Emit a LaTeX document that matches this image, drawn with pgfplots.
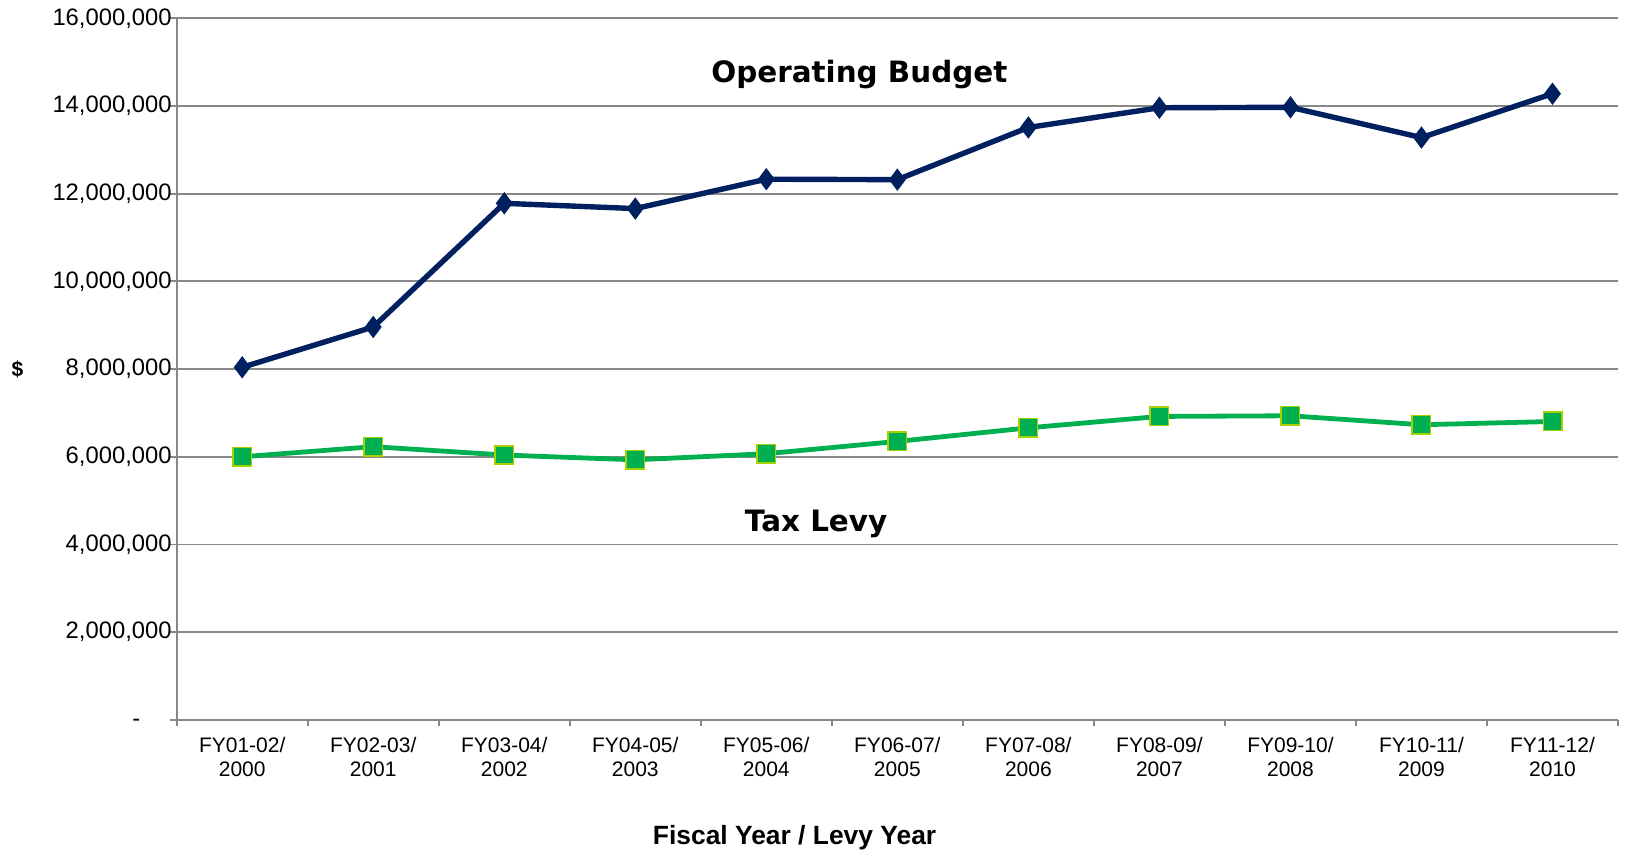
\documentclass[border=0pt]{standalone}
\usepackage{fontspec}
\setmainfont{Liberation Sans}
\newfontfamily\verdana{DejaVu Sans}
\usepackage{pgfplots}
\pgfplotsset{compat=1.18}

\definecolor{budgetblue}{RGB}{0,32,96}
\definecolor{levygreen}{RGB}{0,176,80}
\definecolor{levyedge}{RGB}{166,208,0}
\definecolor{gridgray}{RGB}{136,136,136}

\begin{document}
\begin{tikzpicture}
\begin{axis}[
  scale only axis, width=720.7pt, height=350.8pt,
  xmin=-0.5, xmax=10.5, ymin=0, ymax=16000000,
  axis x line*=bottom, axis y line*=left,
  axis line style={gridgray, line width=0.9pt, -},
  tick align=outside,
  major tick length=3.5pt, minor tick length=3pt,
  every tick/.style={gridgray, line width=0.9pt},
  xtick={0,...,10},
  xticklabels={{FY01-02/\\2000},{FY02-03/\\2001},{FY03-04/\\2002},{FY04-05/\\2003},{FY05-06/\\2004},{FY06-07/\\2005},{FY07-08/\\2006},{FY08-09/\\2007},{FY09-10/\\2008},{FY10-11/\\2009},{FY11-12/\\2010}},
  major x tick style={draw=none},
  minor xtick={-0.5,0.5,...,10.5},
  xticklabel style={align=center, yshift=-1.5pt, font=\fontsize{10.5}{12}\selectfont},
  ytick={0,2000000,...,16000000},
  scaled y ticks=false,
  yticklabels={{},{2,000,000},{4,000,000},{6,000,000},{8,000,000},{10,000,000},{12,000,000},{14,000,000},{16,000,000}},
  yticklabel style={anchor=east, xshift=4.5pt, font=\fontsize{11.9}{14}\selectfont},
  ymajorgrids, major grid style={gridgray, line width=0.9pt},
  xlabel={Fiscal Year / Levy Year},
  every axis x label/.style={at={(axis description cs:0.4287,0)}, anchor=center, yshift=-59pt, font=\bfseries\fontsize{13.2}{15}\selectfont},
  ylabel={\$},
  every axis y label/.style={at={(axis description cs:-0.1104,0.5)}, anchor=center, font=\bfseries\fontsize{10.5}{12}\selectfont},
  clip=false,
]
% Operating Budget
\addplot[budgetblue, line width=2.7pt, mark=diamond*, mark size=5.2pt,
  mark options={solid, fill=budgetblue, line width=0.5pt}]
  coordinates {(0,8040000) (1,8960000) (2,11780000) (3,11660000) (4,12330000)
  (5,12320000) (6,13510000) (7,13960000) (8,13970000) (9,13280000) (10,14280000)};

% Tax Levy
\addplot[levygreen, line width=2.4pt, mark=square*, mark size=4.6pt,
  mark options={solid, fill=levygreen, draw=levyedge, line width=0.8pt}]
  coordinates {(0,6000000) (1,6230000) (2,6040000) (3,5930000) (4,6070000)
  (5,6350000) (6,6660000) (7,6920000) (8,6935000) (9,6730000) (10,6805000)};

% zero tick label, set as a dash like the spreadsheet's accounting format
\node[font=\fontsize{11.9}{14}\selectfont, inner sep=0pt, yshift=-1.5pt] at (axis description cs:-0.028,0) {-};

\node[font=\verdana\bfseries\fontsize{14.7}{17}\selectfont] at (axis cs:4.71,14720000) {Operating Budget};
\node[font=\verdana\bfseries\fontsize{14.7}{17}\selectfont] at (axis cs:4.38,4470000) {Tax Levy};
\end{axis}
\pgfresetboundingbox
\path[use as bounding box] (-88.35pt,-65.5pt) rectangle (724.7pt,359.95pt);
\end{tikzpicture}
\end{document}
